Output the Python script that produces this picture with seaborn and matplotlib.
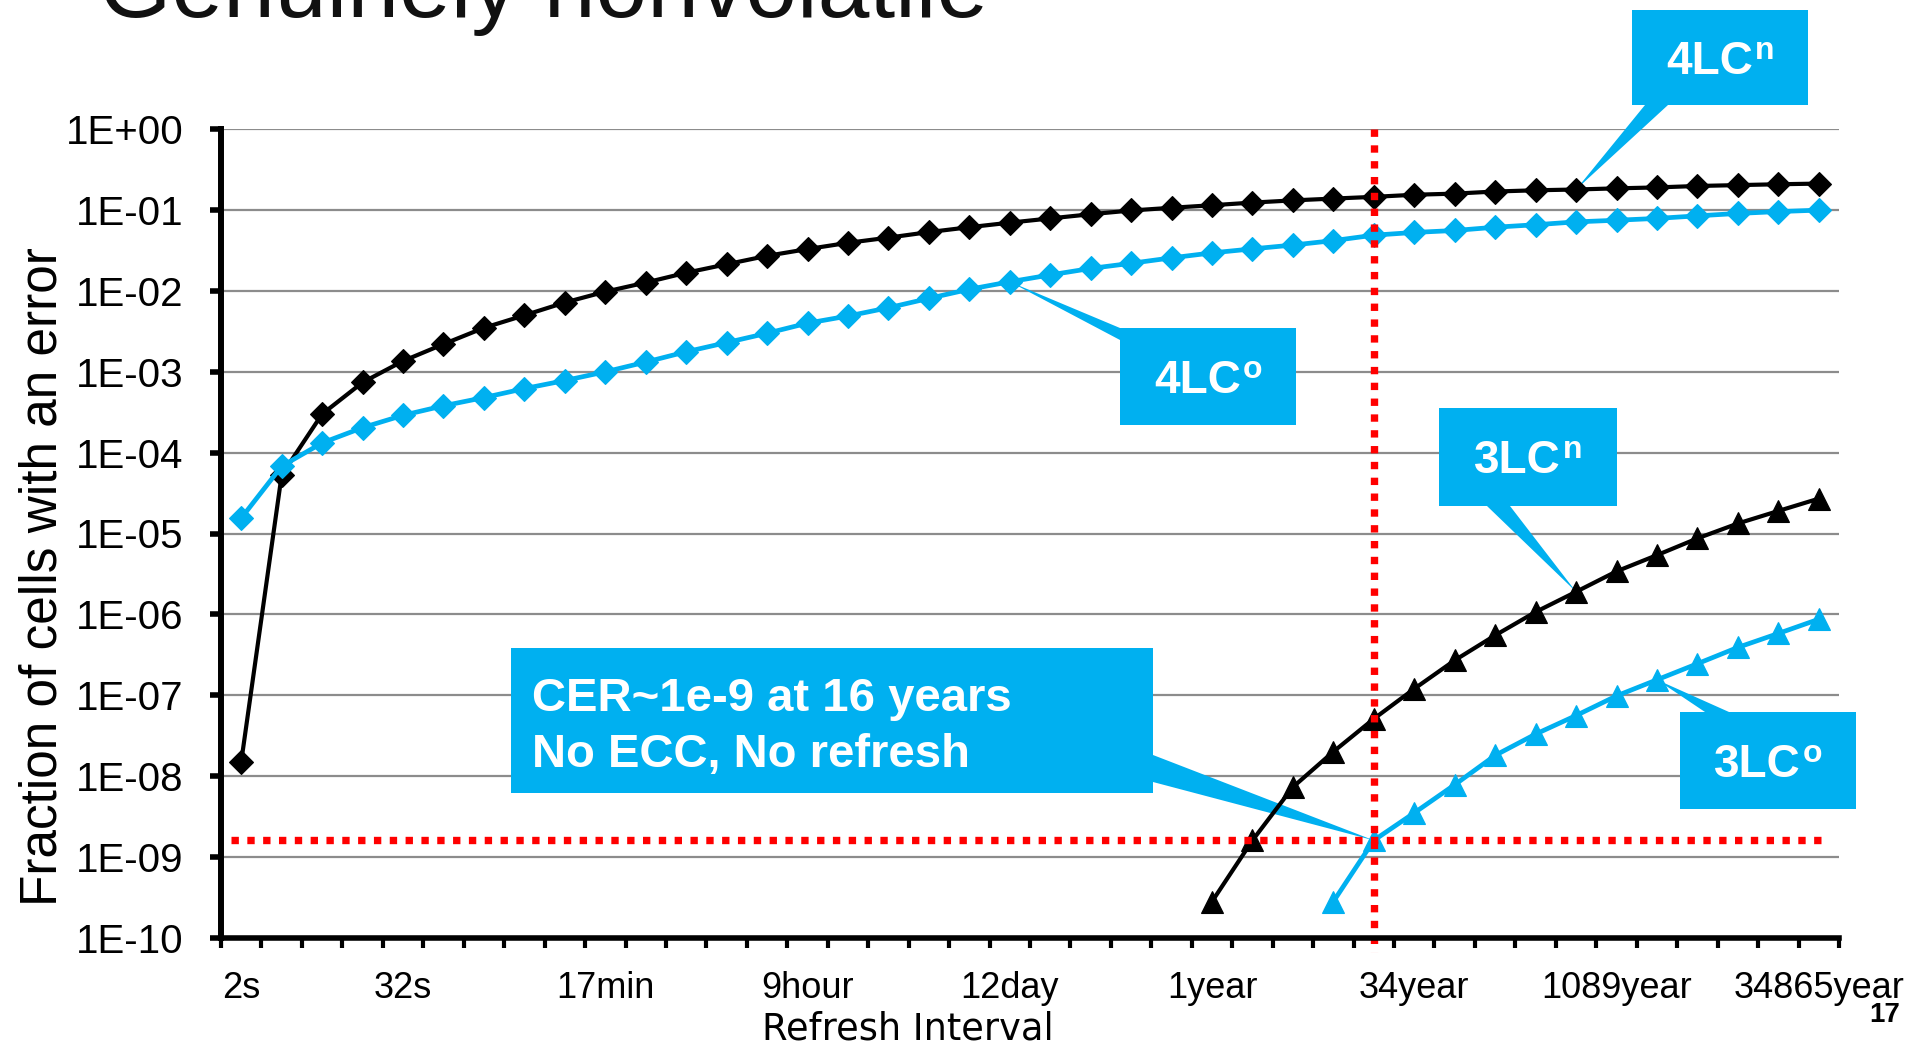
import math
import matplotlib
matplotlib.use("Agg")
import matplotlib.pyplot as plt
from matplotlib.patches import Rectangle, Polygon
from matplotlib.ticker import FixedLocator, FuncFormatter, NullLocator
import pandas as pd
import seaborn as sns

# Point i is a refresh interval of 2^(i+1) seconds
interval_idx = list(range(40))
tick_pos = [0, 4, 9, 14, 19, 24, 29, 34, 39]
tick_labels = ["2s", "32s", "17min", "9hour", "12day", "1year",
               "34year", "1089year", "34865year"]

# Fraction of cells with an error, per refresh interval
four_lc_n = [1.5e-8, 5.3e-5, 3.0e-4, 7.4e-4, 1.36e-3, 2.2e-3, 3.5e-3, 5.0e-3,
             7.2e-3, 9.8e-3, 1.27e-2, 1.68e-2, 2.14e-2, 2.72e-2, 3.3e-2, 3.94e-2,
             4.57e-2, 5.35e-2, 6.15e-2, 7.0e-2, 7.9e-2, 8.9e-2, 9.9e-2, 0.107,
             0.115, 0.124, 0.132, 0.139, 0.146, 0.155, 0.160, 0.170,
             0.176, 0.180, 0.186, 0.191, 0.199, 0.204, 0.209, 0.213]
four_lc_o = [1.55e-5, 6.8e-5, 1.32e-4, 2.04e-4, 2.9e-4, 3.8e-4, 4.8e-4, 6.2e-4,
             7.8e-4, 1.0e-3, 1.32e-3, 1.77e-3, 2.3e-3, 3.0e-3, 4.0e-3, 4.9e-3,
             6.2e-3, 8.1e-3, 1.05e-2, 1.3e-2, 1.58e-2, 1.9e-2, 2.2e-2, 2.57e-2,
             2.96e-2, 3.32e-2, 3.7e-2, 4.2e-2, 4.9e-2, 5.3e-2, 5.6e-2, 6.15e-2,
             6.6e-2, 7.16e-2, 7.5e-2, 7.9e-2, 8.5e-2, 9.1e-2, 9.6e-2, 0.100]
three_lc_n_start = 24
three_lc_n = [2.8e-10, 1.6e-9, 7.3e-9, 2.0e-8, 5.1e-8, 1.2e-7, 2.7e-7, 5.5e-7,
              1.07e-6, 1.9e-6, 3.4e-6, 5.4e-6, 8.7e-6, 1.33e-5, 1.9e-5, 2.7e-5]
three_lc_o_start = 27
three_lc_o = [2.8e-10, 1.6e-9, 3.5e-9, 7.8e-9, 1.8e-8, 3.3e-8, 5.6e-8, 9.8e-8,
              1.55e-7, 2.45e-7, 3.9e-7, 5.8e-7, 8.7e-7]

# 16-year refresh interval (2^29 s) and the 3LC-o error rate there
cer_idx = 28
cer_value = three_lc_o[cer_idx - three_lc_o_start]

BLUE = "#00B0F0"
RED = "#FF0000"
W, H = 1915, 1049

sns.set_theme(style="white")
plt.rcParams["font.family"] = ["Liberation Sans", "DejaVu Sans"]

fig = plt.figure(figsize=(W / 100, H / 100), dpi=100)
ax = fig.add_axes([221 / W, 1 - 937.7 / H, (1839 - 221) / W, (937.7 - 129.3) / H])
ax.set_yscale("log")
ax.set_xlim(-0.5, 39.5)
ax.set_ylim(1e-10, 1)


def frame(xs, ys):
    return pd.DataFrame({"interval": xs, "fraction": ys})


series = [
    (frame(interval_idx, four_lc_n), "black", "D", 12.5, 3.0),
    (frame(interval_idx, four_lc_o), BLUE, "D", 12.5, 3.4),
    (frame(list(range(three_lc_n_start, 40)), three_lc_n), "black", "^", 16.5, 3.0),
    (frame(list(range(three_lc_o_start, 40)), three_lc_o), BLUE, "^", 16.5, 3.4),
]
for df, col, mk, ms, lw in series:
    sns.lineplot(data=df, x="interval", y="fraction", ax=ax, color=col,
                 marker=mk, markersize=ms, markeredgecolor=col,
                 markeredgewidth=0.8, linewidth=lw, estimator=None,
                 sort=False, zorder=4)

# Axes styling
for side in ("top", "right"):
    ax.spines[side].set_visible(False)
ax.spines["left"].set_linewidth(4.3)
ax.spines["bottom"].set_linewidth(4.0)
ax.spines["left"].set_color("black")
ax.spines["bottom"].set_color("black")
ax.spines["left"].set_zorder(5)
ax.spines["bottom"].set_zorder(5)

ax.yaxis.set_major_locator(FixedLocator([10.0 ** e for e in range(-10, 1)]))
ax.yaxis.set_minor_locator(NullLocator())
ax.yaxis.set_major_formatter(
    FuncFormatter(lambda v, p: "1E{:+03d}".format(int(round(math.log10(v))))))
ax.tick_params(axis="y", which="major", direction="out", length=8, width=4,
               color="black", pad=19, labelsize=29, labelcolor="black", left=True)
ax.yaxis.grid(True, color="#8c8c8c", linewidth=1.6, zorder=0)
ax.xaxis.grid(False)
ax.set_axisbelow(True)

ax.set_xticks([i - 0.5 for i in range(41)])
ax.set_xticklabels([])
ax.set_xticks(tick_pos, minor=True)
ax.set_xticklabels(tick_labels, minor=True)
ax.tick_params(axis="x", which="major", direction="out", length=7.5, width=3,
               color="black", bottom=True)
ax.tick_params(axis="x", which="minor", length=0, pad=24, labelsize=26,
               labelcolor="black", bottom=True)
ax.set_xlabel("")
ax.set_ylabel("")

# Red dotted reference lines: 16-year interval and its error rate
ax.plot([cer_idx, cer_idx], [1.0, 10 ** -10.18], color=RED, linewidth=5.3,
        linestyle=(0, (1, 1.15)), zorder=5, clip_on=False)
ax.plot([-0.25, 39.15], [cer_value, cer_value], color=RED, linewidth=5.3,
        linestyle=(0, (1, 1.15)), zorder=5, clip_on=False)

# Axis titles, slide title, page number
fig.text(43 / W, 1 - 577 / H, "Fraction of cells with an error", rotation=90,
         ha="center", va="center", fontsize=37, color="black")
fig.text(908 / W, 1 - 1040 / H, "Refresh Interval", ha="center", va="baseline",
         fontsize=26.5, color="black", family=["DejaVu Sans"])
fig.text(99 / W, 1 - 16.7 / H, "Genuinely nonvolatile", ha="left", va="baseline",
         fontsize=67, color="#111111")
fig.text(1885 / W, 1 - 1022 / H, "17", ha="center", va="baseline", fontsize=20,
         fontweight="bold", color="black")


def px(x, y):
    return (x / W, 1 - y / H)


def data_px(i, v):
    dx, dy = ax.transData.transform((i, v))
    return (dx, H - dy)


def callout(box, base, tip):
    x0, y0, x1, y1 = box
    ax.add_patch(Rectangle(px(x0, y1), (x1 - x0) / W, (y1 - y0) / H,
                           transform=fig.transFigure, facecolor=BLUE,
                           edgecolor="none", zorder=3, clip_on=False))
    pts = [px(*base[0]), px(*tip), px(*base[1])]
    ax.add_patch(Polygon(pts, closed=True, transform=fig.transFigure,
                         facecolor=BLUE, edgecolor="none", zorder=3,
                         clip_on=False))


renderer = fig.canvas.get_renderer()


def box_label(cx, cy, main, sup, size=33, sup_size=23, rise=15):
    t = ax.text(0, 0, main, transform=fig.transFigure, fontsize=size,
                fontweight="bold", color="white", ha="left", va="baseline",
                zorder=6, clip_on=False)
    s = ax.text(0, 0, sup, transform=fig.transFigure, fontsize=sup_size,
                fontweight="bold", color="white", ha="left", va="baseline",
                zorder=6, clip_on=False)
    wb = t.get_window_extent(renderer).width
    ws = s.get_window_extent(renderer).width
    gap = 2
    left = cx - (wb + gap + ws) / 2
    cap = 0.716 * size * 100 / 72
    base_y = cy + cap / 2
    t.set_position(px(left, base_y))
    s.set_position(px(left + wb + gap, base_y - rise))


callout((1632, 10, 1808, 105), [(1645, 105), (1668, 105)],
        data_px(33, four_lc_n[33]))
box_label(1720, 57.5, "4LC", "n")

callout((1120, 328, 1296, 425), [(1120, 328), (1120, 340)],
        data_px(19, four_lc_o[19]))
box_label(1208, 376.5, "4LC", "o")

callout((1439, 408, 1617, 506), [(1487, 506), (1510, 506)],
        data_px(33, three_lc_n[33 - three_lc_n_start]))
box_label(1528, 457, "3LC", "n")

callout((1680, 712, 1856, 809), [(1705, 712), (1729, 712)],
        data_px(35, three_lc_o[35 - three_lc_o_start]))
box_label(1768, 760.5, "3LC", "o")

callout((511, 648, 1153, 793), [(1153, 755), (1153, 782)],
        data_px(cer_idx, cer_value))
ax.text(*px(532, 711), "CER~1e-9 at 16 years", transform=fig.transFigure,
        fontsize=34, fontweight="bold", color="white", ha="left",
        va="baseline", zorder=6, clip_on=False)
ax.text(*px(532, 767), "No ECC, No refresh", transform=fig.transFigure,
        fontsize=34, fontweight="bold", color="white", ha="left",
        va="baseline", zorder=6, clip_on=False)

fig.savefig("out.png", dpi=100)
